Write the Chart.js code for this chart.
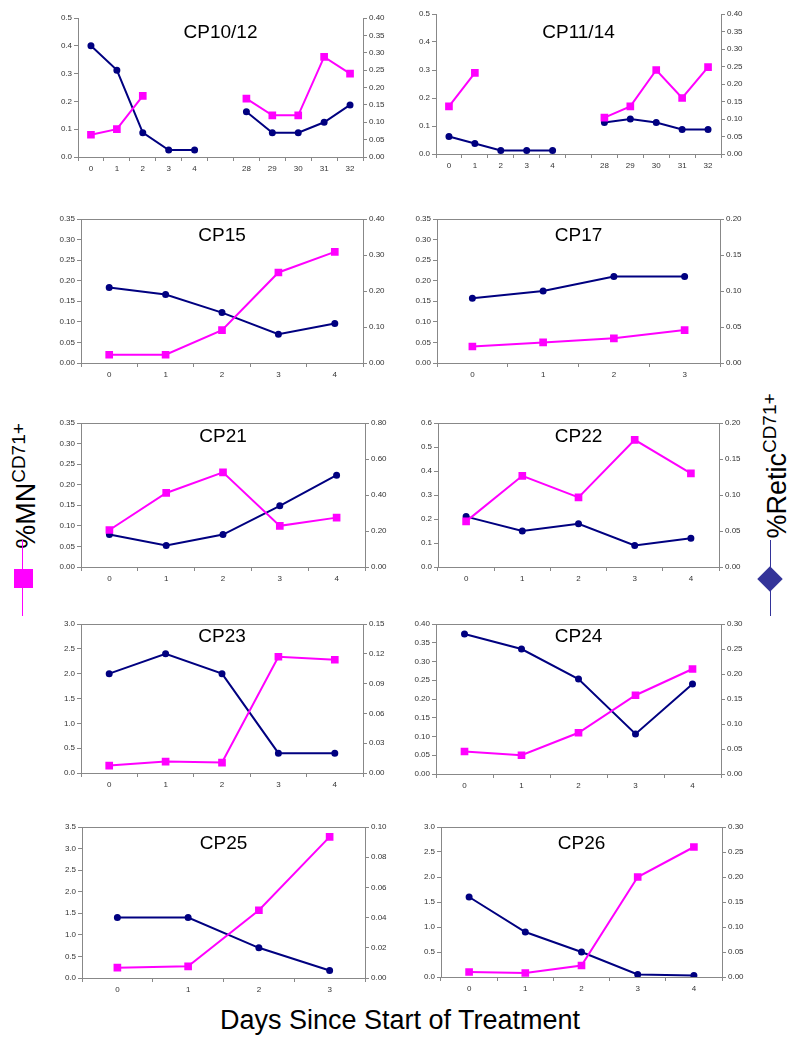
<!DOCTYPE html>
<html>
<head>
<meta charset="utf-8">
<script src="https://cdn.jsdelivr.net/npm/chart.js"></script>
<style>
  body { margin: 0; background: #fff; font-family: Arial, "Liberation Sans", sans-serif; }
  #page { position: relative; width: 800px; height: 1049px; overflow: hidden; }
  .panel { position: absolute; }
  .ptitle { position: absolute; font-size: 19px; color: #000; transform: translate(-50%, -50%); white-space: nowrap; }
  .side { position: absolute; font-size: 27px; color: #000; white-space: nowrap; transform: translate(-50%, -50%) rotate(-90deg); }
  .side sup { font-size: 19px; vertical-align: 10px; }
  .xtitle { position: absolute; left: 400px; top: 1020px; font-size: 27px; transform: translate(-50%, -50%); white-space: nowrap; }
</style>
</head>
<body>
<div id="page">
  <div class="side" style="left:25px; top:486px;">%MN<sup>CD71+</sup></div>
  <div class="side" style="left:776px; top:466px;">%Retic<sup>CD71+</sup></div>
  <div style="position:absolute; left:22px; top:540px; width:1px; height:76px; background:#ff00ff;"></div>
  <div style="position:absolute; left:14px; top:569px; width:19px; height:19px; background:#ff00ff;"></div>
  <div style="position:absolute; left:770px; top:540px; width:1px; height:76px; background:#333399;"></div>
  <div style="position:absolute; left:761px; top:570px; width:18px; height:18px; background:#333399; transform:rotate(45deg);"></div>
  <div class="xtitle">Days Since Start of Treatment</div>
</div>
<script>
"use strict";
// categories
const gapDays = ["0", "1", "2", "3", "4", "", "28", "29", "30", "31", "32"];
const days5 = ["0", "1", "2", "3", "4"];
const days4 = ["0", "1", "2", "3"];

// series: MN (magenta, left axis) and Retic (navy, right axis)
const cp1012MN = [0.08, 0.10, 0.22, null, null, null, 0.21, 0.15, 0.15, 0.36, 0.30];
const cp1012Retic = [0.32, 0.25, 0.07, 0.02, 0.02, null, 0.13, 0.07, 0.07, 0.10, 0.15];
const cp1114MN = [0.17, 0.29, null, null, null, null, 0.13, 0.17, 0.30, 0.20, 0.31];
const cp1114Retic = [0.05, 0.03, 0.01, 0.01, 0.01, null, 0.09, 0.10, 0.09, 0.07, 0.07];
const cp15MN = [0.02, 0.02, 0.08, 0.22, 0.27];
const cp15Retic = [0.21, 0.19, 0.14, 0.08, 0.11];
const cp17MN = [0.04, 0.05, 0.06, 0.08];
const cp17Retic = [0.09, 0.10, 0.12, 0.12];
const cp21MN = [0.09, 0.18, 0.23, 0.10, 0.12];
const cp21Retic = [0.18, 0.12, 0.18, 0.34, 0.51];
const cp22MN = [0.19, 0.38, 0.29, 0.53, 0.39];
const cp22Retic = [0.07, 0.05, 0.06, 0.03, 0.04];
const cp23MN = [0.15, 0.23, 0.21, 2.34, 2.28];
const cp23Retic = [0.10, 0.12, 0.10, 0.02, 0.02];
const cp24MN = [0.06, 0.05, 0.11, 0.21, 0.28];
const cp24Retic = [0.28, 0.25, 0.19, 0.08, 0.18];
const cp25MN = [0.24, 0.27, 1.57, 3.27];
const cp25Retic = [0.04, 0.04, 0.02, 0.005];
const cp26MN = [0.10, 0.08, 0.23, 2.00, 2.60];
const cp26Retic = [0.16, 0.09, 0.05, 0.005, 0.003];

// axis ticks: [max, step, decimals]
const axisMN1 = [0.5, 0.1, 1];
const axisMN35 = [0.35, 0.05, 2];
const axisMN6 = [0.6, 0.1, 1];
const axisMN3 = [3.0, 0.5, 1];
const axisMN4 = [0.40, 0.05, 2];
const axisMN35b = [3.5, 0.5, 1];
const axisRetic40 = [0.40, 0.05, 2];
const axisRetic40b = [0.40, 0.10, 2];
const axisRetic20 = [0.20, 0.05, 2];
const axisRetic80 = [0.80, 0.20, 2];
const axisRetic15 = [0.15, 0.03, 2];
const axisRetic30 = [0.30, 0.05, 2];
const axisRetic10 = [0.10, 0.02, 2];

const MN_COLOR = "#ff00ff";
const RETIC_COLOR = "#000080";
const AXIS_COLOR = "#888888";

const topFrame = {
  id: "topFrame",
  afterDraw(chart, args, opts) {
    if (!opts.show) return;
    const a = chart.chartArea;
    const ctx = chart.ctx;
    ctx.save();
    ctx.strokeStyle = AXIS_COLOR;
    ctx.lineWidth = 1;
    ctx.beginPath();
    ctx.moveTo(a.left, Math.round(a.top) + 0.5);
    ctx.lineTo(a.right, Math.round(a.top) + 0.5);
    ctx.stroke();
    ctx.restore();
  },
};
Chart.register(topFrame);

function yAxis(spec, position) {
  return {
    type: "linear",
    position: position,
    min: 0,
    max: spec[0],
    afterFit: (s) => { s.width = 40; },
    border: { display: true, color: AXIS_COLOR, width: 1 },
    grid: { display: true, drawOnChartArea: false, drawTicks: true, tickLength: 4, color: AXIS_COLOR },
    ticks: {
      stepSize: spec[1],
      color: "#333",
      padding: 2,
      font: { family: "Arial, 'Liberation Sans'", size: 8 },
      callback: (v) => v.toFixed(spec[2]),
    },
  };
}

function makePanel(p) {
  const page = document.getElementById("page");
  const padTop = 8, xH = 22, side = 40;
  const w = p.box[1] - p.box[0] + side * 2;
  const h = p.box[3] - p.box[2] + padTop + xH;
  const div = document.createElement("div");
  div.className = "panel";
  div.style.left = (p.box[0] - side) + "px";
  div.style.top = (p.box[2] - padTop) + "px";
  const canvas = document.createElement("canvas");
  canvas.width = w;
  canvas.height = h;
  canvas.style.width = w + "px";
  canvas.style.height = h + "px";
  div.appendChild(canvas);
  page.appendChild(div);

  const t = document.createElement("div");
  t.className = "ptitle";
  t.textContent = p.title;
  t.style.left = ((p.box[0] + p.box[1]) / 2) + "px";
  t.style.top = (p.box[2] + p.titleDy) + "px";
  page.appendChild(t);

  new Chart(canvas, {
    type: "line",
    data: {
      labels: p.days,
      datasets: [
        {
          label: "%MN CD71+",
          data: p.mn,
          yAxisID: "y",
          borderColor: MN_COLOR,
          backgroundColor: MN_COLOR,
          borderWidth: 2,
          pointStyle: "rect",
          pointRadius: 4,
          tension: 0,
          spanGaps: false,
        },
        {
          label: "%Retic CD71+",
          data: p.retic,
          yAxisID: "y1",
          borderColor: RETIC_COLOR,
          backgroundColor: RETIC_COLOR,
          borderWidth: 2,
          pointStyle: "circle",
          pointRadius: 2.5,
          tension: 0,
          spanGaps: false,
        },
      ],
    },
    options: {
      responsive: false,
      animation: false,
      devicePixelRatio: 1,
      layout: { padding: { top: padTop, left: 0, right: 0, bottom: 0 } },
      plugins: {
        legend: { display: false },
        tooltip: { enabled: false },
        title: { display: false },
        topFrame: { show: p.frame },
      },
      scales: {
        x: {
          type: "category",
          offset: true,
          afterFit: (s) => { s.height = xH; },
          border: { display: true, color: AXIS_COLOR, width: 1 },
          grid: { display: true, offset: true, drawOnChartArea: false, drawTicks: true, tickLength: 4, color: AXIS_COLOR },
          ticks: {
            color: "#333",
            padding: 3,
            maxRotation: 0,
            autoSkip: false,
            font: { family: "Arial, 'Liberation Sans'", size: 8 },
          },
        },
        y: yAxis(p.left, "left"),
        y1: yAxis(p.right, "right"),
      },
    },
  });
}

// plot boxes: [left, right, top, bottom]
makePanel({ title: "CP10/12", days: gapDays, mn: cp1012MN, retic: cp1012Retic, left: axisMN1, right: axisRetic40, box: [78, 363, 18, 157], titleDy: 14, frame: false });
makePanel({ title: "CP11/14", days: gapDays, mn: cp1114MN, retic: cp1114Retic, left: axisMN1, right: axisRetic40, box: [436, 721, 14, 154], titleDy: 18, frame: false });
makePanel({ title: "CP15", days: days5, mn: cp15MN, retic: cp15Retic, left: axisMN35, right: axisRetic40b, box: [81, 363, 219, 363], titleDy: 16, frame: true });
makePanel({ title: "CP17", days: days4, mn: cp17MN, retic: cp17Retic, left: axisMN35, right: axisRetic20, box: [437, 720, 219, 363], titleDy: 16, frame: true });
makePanel({ title: "CP21", days: days5, mn: cp21MN, retic: cp21Retic, left: axisMN35, right: axisRetic80, box: [81, 365, 423, 567], titleDy: 13, frame: true });
makePanel({ title: "CP22", days: days5, mn: cp22MN, retic: cp22Retic, left: axisMN6, right: axisRetic20, box: [438, 719, 423, 567], titleDy: 13, frame: true });
makePanel({ title: "CP23", days: days5, mn: cp23MN, retic: cp23Retic, left: axisMN3, right: axisRetic15, box: [81, 363, 624, 773], titleDy: 12, frame: true });
makePanel({ title: "CP24", days: days5, mn: cp24MN, retic: cp24Retic, left: axisMN4, right: axisRetic30, box: [436, 721, 624, 774], titleDy: 12, frame: true });
makePanel({ title: "CP25", days: days4, mn: cp25MN, retic: cp25Retic, left: axisMN35b, right: axisRetic10, box: [82, 365, 827, 978], titleDy: 16, frame: true });
makePanel({ title: "CP26", days: days5, mn: cp26MN, retic: cp26Retic, left: axisMN3, right: axisRetic30, box: [441, 722, 827, 977], titleDy: 16, frame: true });
</script>
</body>
</html>
